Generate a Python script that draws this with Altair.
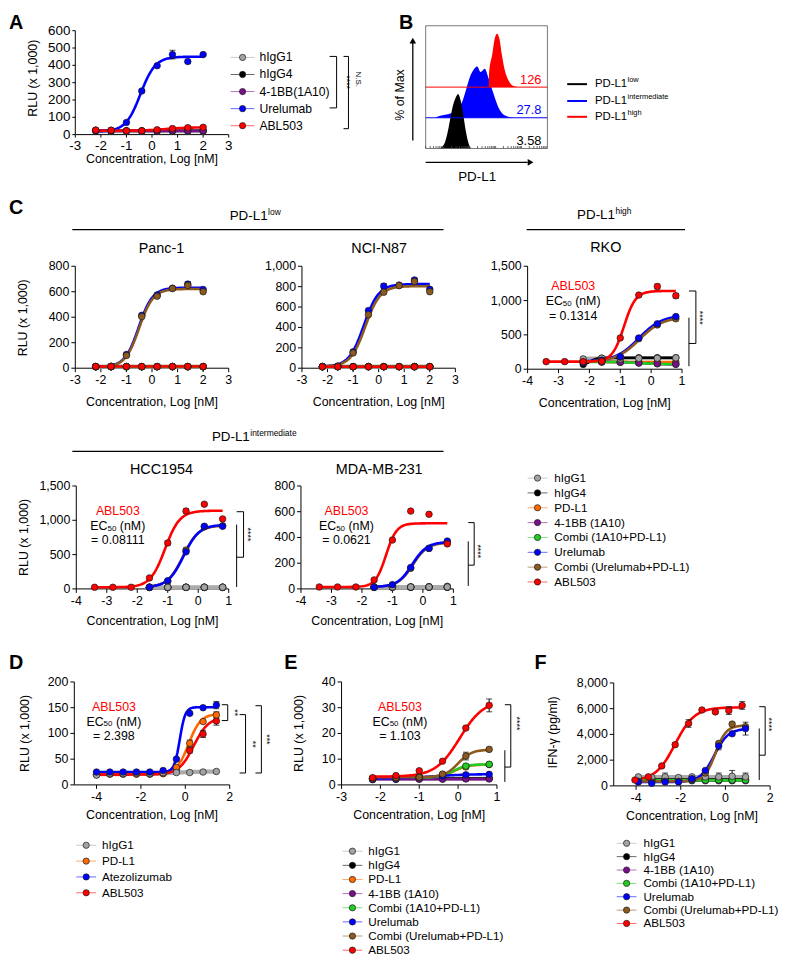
import math
import altair as alt
import pandas as pd

W, H = 781, 953
M = 8
FONT = "Liberation Sans"


def px(v):
    return v - M


def py(v):
    return v - M


# ---------------- colours ----------------
GRAY = "#A3A3A3"
GRAY_LINE = "#ABABAB"
BLACK = "#000000"
ORANGE = "#FF6A00"
PURPLE = "#7A0F8C"
GREEN = "#22CC22"
BLUE = "#0000FF"
BROWN = "#8C5A1E"
RED = "#FF0000"
COLORS = {"hIgG1": GRAY, "hIgG4": BLACK, "PD-L1": ORANGE, "4-1BB (1A10)": PURPLE,
          "4-1BB(1A10)": PURPLE, "Combi (1A10+PD-L1)": GREEN, "Urelumab": BLUE,
          "Atezolizumab": BLUE, "Combi (Urelumab+PD-L1)": BROWN, "ABL503": RED}

# ---------------- Panel A ----------------
A_NAMES = ["hIgG1", "hIgG4", "4-1BB(1A10)", "Urelumab", "ABL503"]
A_X = [-2.2, -1.6, -1.0, -0.4, 0.2, 0.8, 1.4, 2.0]
A_Y = {
    "hIgG1": [22, 20, 20, 20, 20, 20, 20, 20],
    "hIgG4": [24, 22, 22, 22, 22, 22, 24, 24],
    "4-1BB(1A10)": [22, 22, 21, 21, 21, 22, 22, 22],
    "Urelumab": [25, 25, 70, 252, 398, 462, 422, 462],
    "ABL503": [26, 25, 22, 22, 28, 35, 40, 42],
}
A_ERR = {"Urelumab": [0, 0, 0, 0, 0, 25, 0, 0]}
A_FIT = {"hIgG1": (20, 20, 0, 1), "hIgG4": (22, 22, 0, 1), "4-1BB(1A10)": (21, 21, 0, 1),
         "Urelumab": (18, 450, -0.45, 1.5), "ABL503": (22, 42, 0.5, 1.0)}

# ---------------- Panel C ----------------
C_NAMES = ["hIgG1", "hIgG4", "PD-L1", "4-1BB (1A10)", "Combi (1A10+PD-L1)",
           "Urelumab", "Combi (Urelumab+PD-L1)", "ABL503"]

PANC_X = [-2.2, -1.6, -1.0, -0.4, 0.2, 0.8, 1.4, 2.0]
PANC_Y = {
    "hIgG1": [13, 12, 12, 12, 13, 13, 13, 13],
    "hIgG4": [12, 12, 12, 12, 12, 12, 12, 12],
    "PD-L1": [12, 12, 12, 12, 12, 13, 13, 13],
    "4-1BB (1A10)": [11, 11, 11, 11, 11, 11, 11, 11],
    "Combi (1A10+PD-L1)": [12, 12, 12, 12, 12, 12, 12, 12],
    "Urelumab": [12, 15, 108, 415, 575, 628, 660, 618],
    "Combi (Urelumab+PD-L1)": [12, 15, 100, 405, 565, 625, 650, 600],
    "ABL503": [13, 13, 13, 13, 13, 13, 13, 13],
}
PANC_ERR = {"Urelumab": [0, 0, 0, 0, 12, 0, 18, 0]}
PANC_FIT = {"hIgG1": (12, 13, 0, 1), "hIgG4": (12, 12, 0, 1), "PD-L1": (12, 13, 0.5, 1),
            "4-1BB (1A10)": (11, 11, 0, 1), "Combi (1A10+PD-L1)": (12, 12, 0, 1),
            "Urelumab": (10, 632, -0.52, 1.6), "Combi (Urelumab+PD-L1)": (10, 622, -0.5, 1.6),
            "ABL503": (13, 13, 0, 1)}

NCI_X = [-2.2, -1.6, -1.0, -0.4, 0.2, 0.8, 1.4, 2.0]
NCI_Y = {
    "hIgG1": [15, 15, 15, 15, 15, 15, 15, 15],
    "hIgG4": [16, 16, 16, 16, 16, 16, 16, 16],
    "PD-L1": [15, 15, 15, 15, 15, 15, 15, 15],
    "4-1BB (1A10)": [14, 14, 14, 14, 14, 14, 14, 14],
    "Combi (1A10+PD-L1)": [15, 15, 15, 15, 15, 15, 15, 15],
    "Urelumab": [15, 20, 160, 565, 805, 815, 865, 775],
    "Combi (Urelumab+PD-L1)": [15, 20, 150, 525, 745, 810, 850, 750],
    "ABL503": [15, 15, 15, 15, 15, 15, 15, 15],
}
NCI_ERR = {"Urelumab": [0, 0, 0, 0, 25, 0, 20, 0]}
NCI_FIT = {"hIgG1": (15, 15, 0, 1), "hIgG4": (16, 16, 0, 1), "PD-L1": (15, 15, 0, 1),
           "4-1BB (1A10)": (14, 14, 0, 1), "Combi (1A10+PD-L1)": (15, 15, 0, 1),
           "Urelumab": (15, 825, -0.58, 1.5), "Combi (Urelumab+PD-L1)": (15, 805, -0.52, 1.5),
           "ABL503": (15, 15, 0, 1)}

RKO_X_ABL = [-3.4, -2.8, -2.2, -1.6, -1.0, -0.4, 0.2, 0.8]
RKO_X = [-2.2, -1.6, -1.0, -0.4, 0.2, 0.8]
RKO_Y = {
    "hIgG1": [150, 160, 150, 158, 160, 165],
    "hIgG4": [70, 160, 168, 168, 168, 168],
    "PD-L1": [110, 108, 108, 105, 105, 105],
    "4-1BB (1A10)": [110, 105, 100, 90, 80, 72],
    "Combi (1A10+PD-L1)": [108, 104, 100, 90, 80, 72],
    "Urelumab": [95, 130, 183, 455, 661, 767],
    "Combi (Urelumab+PD-L1)": [95, 125, 175, 445, 645, 735],
    "ABL503": [110, 110, 110, 115, 455, 1080, 1205, 1070],
}
RKO_ERR = {"ABL503": [0, 0, 0, 0, 0, 0, 35, 35], "hIgG1": [25, 20, 0, 0, 0, 0],
           "Urelumab": [0, 0, 0, 0, 0, 20]}
RKO_FIT = {"hIgG1": (152, 163, -1, 1), "hIgG4": (65, 168, -1.95, 4), "PD-L1": (108, 105, -1, 1),
           "4-1BB (1A10)": (110, 65, -0.3, 1.0), "Combi (1A10+PD-L1)": (108, 68, -0.3, 1),
           "Urelumab": (110, 790, -0.4, 1.15), "Combi (Urelumab+PD-L1)": (105, 760, -0.38, 1.15),
           "ABL503": (110, 1140, -0.88, 2.3)}

HCC_X_ABL = [-3.4, -2.8, -2.2, -1.6, -1.0, -0.4, 0.2, 0.8]
HCC_X = [-1.6, -1.0, -0.4, 0.2, 0.8]
HCC_Y = {
    "hIgG1": [24, 24, 24, 24, 24],
    "hIgG4": [22, 22, 22, 22, 22],
    "PD-L1": [24, 24, 26, 26, 26],
    "4-1BB (1A10)": [22, 22, 22, 22, 22],
    "Combi (1A10+PD-L1)": [24, 24, 24, 24, 24],
    "Urelumab": [24, 120, 540, 913, 913],
    "Combi (Urelumab+PD-L1)": [24, 110, 565, 905, 920],
    "ABL503": [24, 24, 24, 160, 670, 1135, 1235, 1020],
}
HCC_ERR = {"ABL503": [0, 0, 0, 0, 30, 30, 0, 0], "Combi (Urelumab+PD-L1)": [0, 0, 30, 0, 0]}
HCC_FIT = {"hIgG1": (24, 24, 0, 1), "hIgG4": (22, 22, 0, 1), "PD-L1": (24, 26, -0.5, 1),
           "4-1BB (1A10)": (22, 22, 0, 1), "Combi (1A10+PD-L1)": (24, 24, 0, 1),
           "Urelumab": (24, 935, -0.48, 1.7), "Combi (Urelumab+PD-L1)": (24, 925, -0.5, 1.7),
           "ABL503": (24, 1140, -1.09, 1.8)}

MDA_X_ABL = [-3.4, -2.8, -2.2, -1.6, -1.0, -0.4, 0.2, 0.8]
MDA_X = [-1.6, -1.0, -0.4, 0.2, 0.8]
MDA_Y = {
    "hIgG1": [15, 15, 15, 15, 15],
    "hIgG4": [13, 13, 13, 13, 13],
    "PD-L1": [15, 15, 16, 18, 20],
    "4-1BB (1A10)": [13, 13, 13, 13, 13],
    "Combi (1A10+PD-L1)": [14, 14, 14, 15, 15],
    "Urelumab": [13, 33, 167, 315, 372],
    "Combi (Urelumab+PD-L1)": [13, 30, 160, 315, 360],
    "ABL503": [15, 15, 15, 70, 380, 605, 580, 350],
}
MDA_ERR = {}
MDA_FIT = {"hIgG1": (15, 15, 0, 1), "hIgG4": (13, 13, 0, 1), "PD-L1": (15, 22, 0.2, 1.5),
           "4-1BB (1A10)": (13, 13, 0, 1), "Combi (1A10+PD-L1)": (14, 15, 0, 1),
           "Urelumab": (15, 365, -0.35, 1.8), "Combi (Urelumab+PD-L1)": (15, 360, -0.33, 1.8),
           "ABL503": (15, 510, -1.21, 2.5)}

# ---------------- Panel D ----------------
D_NAMES = ["hIgG1", "PD-L1", "Atezolizumab", "ABL503"]
D_X = [-4.0, -3.4, -2.8, -2.2, -1.6, -1.0, -0.4, 0.2, 0.8, 1.4]
D_Y = {
    "hIgG1": [19, 22, 22, 23, 22, 24, 24, 24, 25, 26],
    "PD-L1": [20, 21, 21, 21, 21, 22, 34, 81, 123, 136],
    "Atezolizumab": [25, 25, 25, 25, 25, 28, 50, 139, 150, 155],
    "ABL503": [20, 21, 21, 21, 21, 22, 30, 67, 99, 124],
}
D_ERR = {"Atezolizumab": [0, 0, 0, 0, 0, 0, 0, 0, 0, 7],
         "PD-L1": [0, 0, 0, 0, 0, 0, 0, 6, 0, 6],
         "ABL503": [0, 0, 0, 0, 0, 0, 0, 5, 7, 8]}
D_FIT = {"hIgG1": (21, 26, -0.5, 0.8), "PD-L1": (21, 138, 0.15, 1.6),
         "Atezolizumab": (25, 151, -0.25, 3.5), "ABL503": (20, 132, 0.38, 1.3)}

# ---------------- Panel E ----------------
E_X = [-2.2, -1.6, -1.0, -0.4, 0.2, 0.8]
E_Y = {
    "hIgG1": [2.2, 2.3, 2.3, 2.4, 2.5, 2.5],
    "hIgG4": [2.3, 2.4, 2.5, 2.5, 2.6, 2.6],
    "PD-L1": [2.5, 2.6, 3.0, 3.8, 7.0, 7.9],
    "4-1BB (1A10)": [2.0, 2.1, 2.2, 2.2, 2.3, 2.3],
    "Combi (1A10+PD-L1)": [2.5, 2.6, 3.0, 3.9, 7.3, 8.0],
    "Urelumab": [2.4, 2.7, 3.0, 3.4, 3.9, 4.1],
    "Combi (Urelumab+PD-L1)": [2.5, 2.8, 3.0, 4.2, 11.2, 13.8],
    "ABL503": [2.8, 3.6, 5.5, 9.2, 22.1, 30.9],
}
E_ERR = {"ABL503": [0, 0, 0, 0, 0.6, 2.5], "Combi (Urelumab+PD-L1)": [0, 0, 0, 0, 1.5, 0.5]}
E_FIT = {"hIgG1": (2.4, 2.4, 0, 1), "hIgG4": (2.5, 2.5, 0, 1), "PD-L1": (2.8, 7.9, -0.1, 2.5),
         "4-1BB (1A10)": (2.2, 2.2, 0, 1), "Combi (1A10+PD-L1)": (2.8, 8.0, -0.12, 2.5),
         "Urelumab": (2.5, 4.2, -0.6, 1.0), "Combi (Urelumab+PD-L1)": (3.0, 13.7, 0.0, 2.5),
         "ABL503": (3.2, 33, 0.04, 1.4)}

# ---------------- Panel F ----------------
F_NAMES = ["hIgG1", "hIgG4", "4-1BB (1A10)", "Combi (1A10+PD-L1)", "Urelumab",
           "Combi (Urelumab+PD-L1)", "ABL503"]
F_X_ABL = [-4.05, -3.45, -2.85, -2.25, -1.65, -1.05, -0.45, 0.15, 0.75]
F_X = [-3.9, -3.3, -2.7, -2.1, -1.5, -0.9, -0.3, 0.3, 0.9]
F_Y = {
    "hIgG1": [700, 650, 700, 650, 700, 700, 700, 750, 700],
    "hIgG4": [500, 500, 500, 500, 500, 500, 500, 500, 500],
    "4-1BB (1A10)": [400, 400, 400, 400, 400, 400, 400, 400, 400],
    "Combi (1A10+PD-L1)": [420, 420, 420, 430, 450, 450, 460, 450, 450],
    "Urelumab": [300, 200, 300, 300, 550, 1200, 3100, 4050, 4450],
    "Combi (Urelumab+PD-L1)": [350, 300, 350, 350, 500, 1000, 3300, 4800, 4600],
    "ABL503": [450, 700, 1550, 3200, 4850, 5900, 5750, 5850, 6250],
}
F_ERR = {"ABL503": [0, 0, 0, 150, 300, 0, 0, 300, 300],
         "Urelumab": [0, 0, 0, 0, 0, 0, 300, 0, 500],
         "hIgG1": [0, 0, 300, 0, 0, 0, 300, 450, 300]}
F_FIT = {"hIgG1": (680, 680, 0, 1), "hIgG4": (500, 500, 0, 1), "4-1BB (1A10)": (400, 400, 0, 1),
         "Combi (1A10+PD-L1)": (430, 430, 0, 1), "Urelumab": (300, 4450, -0.5, 1.4),
         "Combi (Urelumab+PD-L1)": (350, 4700, -0.45, 1.8), "ABL503": (400, 6100, -2.25, 1.0)}

# ---------------- Panel B (flow histograms, % of max) ----------------
HIST_X_BLACK = [-0.15, -0.05, 0.05, 0.15, 0.25, 0.35, 0.45, 0.55, 0.65, 0.75, 0.85, 0.95, 1.05]
HIST_Y_BLACK = [0, 4, 12, 30, 55, 78, 92, 100, 88, 62, 32, 10, 0]
HIST_X_BLUE = [-0.35, -0.2, 0.0, 0.2, 0.4, 0.55, 0.7, 0.85, 1.0, 1.15, 1.29, 1.42, 1.58, 1.73,
               1.92, 2.11, 2.36, 2.67]
HIST_Y_BLUE = [0, 3, 5, 7, 11, 18, 28, 50, 74, 88, 94, 84, 90, 72, 44, 19, 4, 0]
HIST_X_RED = [1.74, 1.75, 1.87, 1.97, 2.06, 2.15, 2.24, 2.36, 2.5, 2.65, 2.9]
HIST_Y_RED = [0, 28, 60, 90, 98, 88, 60, 30, 12, 3, 0]
MFI_LABELS = ["126", "27.8", "3.58"]

# drawing orders (later = on top)
ORDER_C_LOWGRAY = ["Combi (1A10+PD-L1)", "PD-L1", "4-1BB (1A10)", "hIgG4",
                   "Combi (Urelumab+PD-L1)", "hIgG1", "Urelumab", "ABL503"]
LINES_C_LOWGRAY = ["Combi (1A10+PD-L1)", "4-1BB (1A10)", "hIgG4", "PD-L1", "hIgG1",
                   "Combi (Urelumab+PD-L1)", "Urelumab", "ABL503"]
ORDER_RKO = ["Combi (1A10+PD-L1)", "PD-L1", "hIgG4", "4-1BB (1A10)", "hIgG1",
             "Combi (Urelumab+PD-L1)", "Urelumab", "ABL503"]
ORDER_D = ["ABL503", "PD-L1", "hIgG1", "Atezolizumab"]
ORDER_F = ["hIgG4", "4-1BB (1A10)", "Combi (1A10+PD-L1)", "hIgG1", "Combi (Urelumab+PD-L1)",
           "Urelumab", "ABL503"]


# ---------------- helpers ----------------
def num_label(v, comma):
    return f"{v:,}" if comma else f"{v:g}"


def curve_panel(names, xs, ys, errs, fits, xdom, xr, ydom, yr, xticks, yticks,
                lab_fs=12.5, tick=4, order=None, line_order=None):
    pts, fit_rows = [], []
    for i, n in enumerate(line_order if line_order else names):
        k = f"{i:02d}"
        bb, tt, ec, hh = fits[n]
        xv = xs[n] if isinstance(xs, dict) else xs
        fit_rows.append({"k": k, "c": GRAY_LINE if n == "hIgG1" else COLORS[n], "b": bb,
                         "t": tt, "ec": ec, "h": hh, "x0": min(xv), "x1": max(xv),
                         "w": 4.2 if n == "hIgG1" else 2.6})
    for n in (order if order else names):
        xv = xs[n] if isinstance(xs, dict) else xs
        yv = ys[n]
        ev = errs.get(n, [0] * len(yv))
        for a, b, e in zip(xv, yv, ev):
            pts.append({"x": a, "y": b, "lo": b - e, "hi": b + e, "e": e, "c": COLORS[n]})
    xsc = alt.Scale(domain=xdom, range=[px(xr[0]), px(xr[1])], nice=False, zero=False)
    ysc = alt.Scale(domain=ydom, range=[py(yr[0]), py(yr[1])], nice=False, zero=False)
    X = alt.X("x:Q", scale=xsc, axis=None)

    # axes drawn through the panel scales
    ux = (xdom[1] - xdom[0]) / (xr[1] - xr[0])
    uy = (ydom[1] - ydom[0]) / (yr[0] - yr[1])
    xdf = pd.DataFrame({"x": xticks, "y0": [ydom[0]] * len(xticks),
                        "y1": [ydom[0] - tick * uy] * len(xticks),
                        "lab": [num_label(v, False) for v in xticks]})
    ydf = pd.DataFrame({"y": yticks, "x0": [xdom[0]] * len(yticks),
                        "x1": [xdom[0] - tick * ux] * len(yticks),
                        "lab": [num_label(v, True) for v in yticks]})
    dom = pd.DataFrame({"xa": [xdom[0], xdom[0]], "xb": [xdom[1], xdom[0]],
                        "ya": [ydom[0], ydom[0]], "yb": [ydom[0], ydom[1]]})
    dom_l = alt.Chart(dom).mark_rule(color="black", strokeWidth=1).encode(
        x=alt.X("xa:Q", scale=xsc, axis=None), x2="xb:Q",
        y=alt.Y("ya:Q", scale=ysc, axis=None), y2="yb:Q")
    xt_l = alt.Chart(xdf).mark_rule(color="black", strokeWidth=1).encode(
        x=X, y=alt.Y("y0:Q", scale=ysc, axis=None), y2="y1:Q")
    xl_l = alt.Chart(xdf).mark_text(baseline="top", dy=tick + 2, font=FONT, fontSize=lab_fs,
                                    color="black").encode(
        x=X, y=alt.Y("y0:Q", scale=ysc, axis=None), text="lab:N")
    yt_l = alt.Chart(ydf).mark_rule(color="black", strokeWidth=1).encode(
        x=alt.X("x0:Q", scale=xsc, axis=None), x2="x1:Q", y=alt.Y("y:Q", scale=ysc, axis=None))
    yl_l = alt.Chart(ydf).mark_text(align="right", baseline="middle", dx=-(tick + 2), font=FONT,
                                    fontSize=lab_fs, color="black").encode(
        x=alt.X("x0:Q", scale=xsc, axis=None), y=alt.Y("y:Q", scale=ysc, axis=None),
        text="lab:N")

    fit_df = pd.DataFrame(fit_rows)
    lines = alt.Chart(fit_df).transform_calculate(
        xs="sequence(datum.x0, datum.x1 + 0.0001, (datum.x1 - datum.x0) / 120)"
    ).transform_flatten(["xs"]).transform_calculate(
        yv="datum.b + (datum.t - datum.b) / (1 + pow(10, (datum.ec - datum.xs) * datum.h))"
    ).mark_line().encode(
        x=alt.X("xs:Q", scale=xsc, axis=None),
        y=alt.Y("yv:Q", scale=ysc, axis=None),
        color=alt.Color("c:N", scale=None),
        strokeWidth=alt.StrokeWidth("w:Q", scale=None),
        detail="k:N",
        order="xs:Q",
    )
    pts_df = pd.DataFrame(pts)
    base = alt.Chart(pts_df)
    eb = base.transform_filter("datum.e > 0")
    bars = eb.mark_rule(color="black", strokeWidth=1).encode(
        x=X, y=alt.Y("lo:Q", scale=ysc, axis=None), y2="hi:Q")
    cap1 = eb.mark_tick(color="black", orient="horizontal", size=6, thickness=1).encode(
        x=X, y=alt.Y("hi:Q", scale=ysc, axis=None))
    cap2 = eb.mark_tick(color="black", orient="horizontal", size=6, thickness=1).encode(
        x=X, y=alt.Y("lo:Q", scale=ysc, axis=None))
    dots = base.mark_circle(size=44, stroke="#1a1a1a", strokeWidth=0.7, opacity=1).encode(
        x=X, y=alt.Y("y:Q", scale=ysc, axis=None), fill=alt.Fill("c:N", scale=None))
    return alt.layer(dom_l, xt_l, xl_l, yt_l, yl_l, lines, bars, cap1, cap2, dots)


def legend(labels, xm, xt, y0, y1, fs=11.8, half=10):
    n = len(labels)
    df = pd.DataFrame({"lab": labels, "c": [COLORS[l] for l in labels], "i": list(range(n))})
    ysc = alt.Scale(domain=[0, n - 1], range=[py(y0), py(y1)], nice=False, zero=False)
    Y = alt.Y("i:Q", scale=ysc, axis=None)
    base = alt.Chart(df)
    ln = base.mark_rule(strokeWidth=1, opacity=0.6).encode(
        x=alt.value(px(xm - half)), x2=alt.value(px(xm + half)), y=Y,
        color=alt.Color("c:N", scale=None))
    dt = base.mark_circle(size=40, stroke="#1a1a1a", strokeWidth=0.7, opacity=1).encode(
        x=alt.value(px(xm)), y=Y, fill=alt.Fill("c:N", scale=None))
    tx = base.mark_text(align="left", baseline="middle", font=FONT, fontSize=fs,
                        color="black").encode(x=alt.value(px(xt)), y=Y, text="lab:N")
    return alt.layer(ln, dt, tx)


# ---------------- curve panels ----------------
panel_a = curve_panel(A_NAMES, A_X, A_Y, A_ERR, A_FIT, [-3, 3], (76, 231), [0, 600], (131, 26),
                      [-3, -2, -1, 0, 1, 2, 3], [0, 100, 200, 300, 400, 500, 600],
                      lab_fs=13.5, tick=3)
panel_panc = curve_panel(C_NAMES, PANC_X, PANC_Y, PANC_ERR, PANC_FIT, [-3, 3], (76, 231),
                         [0, 800], (367, 264), [-3, -2, -1, 0, 1, 2, 3], [0, 200, 400, 600, 800])
panel_nci = curve_panel(C_NAMES, NCI_X, NCI_Y, NCI_ERR, NCI_FIT, [-3, 3], (305, 460),
                        [0, 1000], (367, 264), [-3, -2, -1, 0, 1, 2, 3],
                        [0, 200, 400, 600, 800, 1000])
rko_x = {n: (RKO_X_ABL if n == "ABL503" else RKO_X) for n in C_NAMES}
panel_rko = curve_panel(C_NAMES, rko_x, RKO_Y, RKO_ERR, RKO_FIT, [-4, 1], (533, 689),
                        [0, 1500], (368, 264), [-4, -3, -2, -1, 0, 1], [0, 500, 1000, 1500],
                        order=ORDER_RKO)
hcc_x = {n: (HCC_X_ABL if n == "ABL503" else HCC_X) for n in C_NAMES}
panel_hcc = curve_panel(C_NAMES, hcc_x, HCC_Y, HCC_ERR, HCC_FIT, [-4, 1], (77, 231),
                        [0, 1500], (590, 486), [-4, -3, -2, -1, 0, 1], [0, 500, 1000, 1500],
                        order=ORDER_C_LOWGRAY, line_order=LINES_C_LOWGRAY)
mda_x = {n: (MDA_X_ABL if n == "ABL503" else MDA_X) for n in C_NAMES}
panel_mda = curve_panel(C_NAMES, mda_x, MDA_Y, MDA_ERR, MDA_FIT, [-4, 1], (304, 458),
                        [0, 800], (590, 486), [-4, -3, -2, -1, 0, 1], [0, 200, 400, 600, 800],
                        order=ORDER_C_LOWGRAY, line_order=LINES_C_LOWGRAY)
panel_d = curve_panel(D_NAMES, D_X, D_Y, D_ERR, D_FIT, [-5, 2], (75, 232), [0, 200], (788, 684),
                      [-4, -2, 0, 2], [0, 50, 100, 150, 200], order=ORDER_D)
panel_e = curve_panel(C_NAMES, E_X, E_Y, E_ERR, E_FIT, [-3, 1], (345, 502), [0, 40], (788, 684),
                      [-3, -2, -1, 0, 1], [0, 10, 20, 30, 40])
f_x = {n: (F_X_ABL if n == "ABL503" else F_X) for n in F_NAMES}
panel_f = curve_panel(F_NAMES, f_x, F_Y, F_ERR, F_FIT, [-5, 2], (620, 778), [0, 8000],
                      (789, 685), [-4, -2, 0, 2], [0, 2000, 4000, 6000, 8000], order=ORDER_F)

# ---------------- legends ----------------
leg_a = legend(A_NAMES, 245, 262, 53, 122, fs=12.3, half=12)
leg_c = legend(C_NAMES, 543, 560, 478, 583)
leg_d = legend(D_NAMES, 87, 103, 849, 897)
leg_e = legend(C_NAMES, 356, 372, 855, 955)
leg_f = legend(F_NAMES, 633, 650, 847, 928)

# ---------------- panel B ----------------
B_OFF = {"black": 0.0, "blue": 56.3, "red": 112.5}
bxs = alt.Scale(domain=[-0.7, 4.0], range=[px(430), px(553)], nice=False, zero=False)
bys = alt.Scale(domain=[0, 225], range=[py(145), py(21)], nice=False, zero=False)
log_ticks = []
for d in range(-1, 4):
    for k in range(1, 10):
        v = round(math.log10(k * 10 ** d), 4)
        if -0.7 < v < 4.0:
            log_ticks.append(v)


def hist_layer(xs, ys, off, col):
    df = pd.DataFrame({"x": xs, "top": [off + v for v in ys], "base": [off] * len(xs)})
    return alt.Chart(df).mark_area(color=col, opacity=1, interpolate="monotone").encode(
        x=alt.X("x:Q", scale=bxs, axis=None),
        y=alt.Y("top:Q", scale=bys, axis=None), y2="base:Q")


b_ticks = alt.Chart(pd.DataFrame({"x": log_ticks, "y0": [0] * len(log_ticks),
                                  "y1": [4.5] * len(log_ticks)})).mark_rule(
    color="#444", strokeWidth=0.8).encode(
    x=alt.X("x:Q", scale=bxs, axis=None), y=alt.Y("y0:Q", scale=bys, axis=None), y2="y1:Q")
b_box = alt.Chart(pd.DataFrame({"x0": [-0.7], "x1": [4.0], "y0": [0], "y1": [225]})).mark_rect(
    fillOpacity=0, stroke="#555", strokeWidth=0.8).encode(
    x=alt.X("x0:Q", scale=bxs, axis=None), x2="x1:Q",
    y=alt.Y("y0:Q", scale=bys, axis=None), y2="y1:Q")
b_base = alt.Chart(pd.DataFrame({"x0": [-0.7, -0.7], "x1": [4.0, 4.0],
                                 "y": [B_OFF["blue"], B_OFF["red"]], "c": [BLUE, RED]})).mark_rule(
    strokeWidth=1).encode(x=alt.X("x0:Q", scale=bxs, axis=None), x2="x1:Q",
                          y=alt.Y("y:Q", scale=bys, axis=None), color=alt.Color("c:N", scale=None))
panel_b = alt.layer(
    hist_layer(HIST_X_BLUE, HIST_Y_BLUE, B_OFF["blue"], BLUE),
    hist_layer(HIST_X_RED, HIST_Y_RED, B_OFF["red"], RED),
    hist_layer(HIST_X_BLACK, HIST_Y_BLACK, B_OFF["black"], BLACK),
    b_base, b_ticks, b_box)

# ---------------- free text ----------------
ANN = []


def T(t, x, y, fs=12.5, col=BLACK, ang=0, al="center", bold=False):
    ANN.append({"t": t, "x": px(x), "y": py(y), "fs": fs, "col": col, "ang": ang, "al": al,
                "bold": bold})


for letter, lx, ly in [("A", 9, 18), ("B", 403, 18), ("C", 9, 205), ("D", 9, 665),
                       ("E", 287, 665), ("F", 540, 665)]:
    T(letter, lx, ly, 20, al="left", bold=True)

# axis titles
XT = "Concentration, Log [nM]"
for cx, cy in [(153.5, 156), (153.5, 401), (382.5, 401), (611, 402), (154, 622), (381, 622),
               (153.5, 818), (423.5, 818), (699, 819)]:
    T(XT, cx, cy, 12.5)
for cx, cy in [(33, 74), (23, 316), (24, 538), (25, 736), (302, 736)]:
    T("RLU (x 1,000)", cx, cy, 12.5, ang=270)
T("IFN-\u03b3 (pg/ml)", 559, 735, 12.5, ang=270)

# group headers with superscripts
for sx, sy, sup in [(232, 213, "low"), (583, 212, "high"), (214, 437, "intermediate")]:
    T("PD-L1", sx, sy, 13.5, al="left")
    T(sup, sx + 38.8, sy - 4, 8.5, al="left")
for name, cx, cy in [("Panc-1", 163, 247), ("NCI-N87", 383, 247), ("RKO", 612, 246),
                     ("HCC1954", 163, 470), ("MDA-MB-231", 383, 470)]:
    T(name, cx, cy, 14.5)


def ec50(cx, y1, val):
    T("ABL503", cx, y1, 12.5, col=RED)
    st = cx - 27.8
    T("EC", st, y1 + 15, 12.5, al="left")
    T("50", st + 17.4, y1 + 18, 8, al="left")
    T("(nM)", st + 29.8, y1 + 15, 12.5, al="left")
    T("= " + val, cx, y1 + 30, 12.5)


ec50(579, 284, "0.1314")
ec50(119, 511, "0.08111")
ec50(350, 511, "0.0621")
ec50(115, 709, "2.398")
ec50(404, 709, "1.103")

# panel B texts
for lab, yy, col in zip(MFI_LABELS, [76, 106, 137], [RED, BLUE, BLACK]):
    T(lab, 547, yy, 13, col=col, al="right")
T("% of Max", 404, 91, 12.5, ang=270)
T("PD-L1", 482, 174, 13.5)
for yy, sup in [(80, "low"), (97, "intermediate"), (113, "high")]:
    T("PD-L1", 601, yy, 11.5, al="left")
    T(sup, 634, yy - 4, 7.5, al="left")

# significance marks
for s, xx, yy, fs in [("****", 350, 78, 9), ("N.S.", 362, 75, 8), ("****", 707, 316, 9),
                      ("****", 250, 535, 9), ("****", 483, 552, 9), ("**", 237, 715, 9),
                      ("**", 255, 747, 9), ("***", 270, 742, 9), ("****", 522, 726, 9),
                      ("****", 777, 727, 9)]:
    T(s, xx, yy, fs, ang=90)

ann = pd.DataFrame(ANN)


def ann_layer(align, bold):
    sub = ann[(ann.al == align) & (ann.bold == bold)]
    return alt.Chart(sub).mark_text(align=align, baseline="middle", font=FONT,
                                    fontWeight="bold" if bold else "normal").encode(
        x=alt.X("x:Q", scale=None, axis=None), y=alt.Y("y:Q", scale=None, axis=None),
        text="t:N", size=alt.Size("fs:Q", scale=None), color=alt.Color("col:N", scale=None),
        angle=alt.Angle("ang:Q", scale=None))


text_layers = [ann_layer("center", False), ann_layer("left", False), ann_layer("right", False),
               ann_layer("left", True)]

# ---------------- line segments (brackets, header rules, arrows, B legend) ----------------
SEG = []


def S(x1, y1, x2, y2, w=1.0, c=BLACK):
    SEG.append({"x": px(x1), "y": py(y1), "x2": px(x2), "y2": py(y2), "w": w, "c": c})


def bracket(xa, xb, ya, yb):
    S(xa, ya, xb, ya)
    S(xb, ya, xb, yb)
    S(xa, yb, xb, yb)


bracket(333, 340, 52, 104)
bracket(347, 352, 52, 125)
bracket(696, 703, 289, 342)
S(696, 316, 696, 365)
bracket(239, 246, 512, 558)
S(239, 525, 239, 588)
bracket(473, 479, 523, 566)
S(473, 542, 473, 587)
bracket(224, 230, 707, 723)
bracket(242, 248, 717, 776)
bracket(258, 264, 708, 776)
bracket(510, 516, 707, 770)
S(510, 753, 510, 785)
bracket(767, 773, 709, 758)
S(767, 731, 767, 783)
S(73, 227, 448, 227, 1.2)
S(532, 227, 692, 227, 1.2)
S(73, 451, 448, 451, 1.2)
S(417, 137, 417, 38, 1.3)
S(430, 159, 533, 159, 1.3)
for yy, cc in [(80, BLACK), (97, BLUE), (113, RED)]:
    S(573, yy, 593, yy, 2.0, cc)
seg = pd.DataFrame(SEG)
seg_layer = alt.Chart(seg).mark_rule().encode(
    x=alt.X("x:Q", scale=None, axis=None), y=alt.Y("y:Q", scale=None, axis=None),
    x2="x2:Q", y2="y2:Q", strokeWidth=alt.StrokeWidth("w:Q", scale=None),
    color=alt.Color("c:N", scale=None))
heads = pd.DataFrame({"x": [px(417), px(536)], "y": [py(36), py(159)],
                      "s": ["triangle-up", "triangle-right"]})
head_layer = alt.Chart(heads).mark_point(filled=True, size=45, color="black", opacity=1).encode(
    x=alt.X("x:Q", scale=None, axis=None), y=alt.Y("y:Q", scale=None, axis=None),
    shape=alt.Shape("s:N", scale=None))

layers = [panel_a, leg_a, panel_b, panel_panc, panel_nci, panel_rko, panel_hcc, panel_mda,
          leg_c, panel_d, leg_d, panel_e, leg_e, panel_f, leg_f, seg_layer, head_layer] + text_layers

chart = alt.layer(*layers).resolve_scale(x="independent", y="independent").properties(
    width=W, height=H, padding=0, autosize=alt.AutoSizeParams(type="none")
).configure_view(stroke=None)

chart.save("out.html", embed_options={"renderer": "svg", "actions": False})
